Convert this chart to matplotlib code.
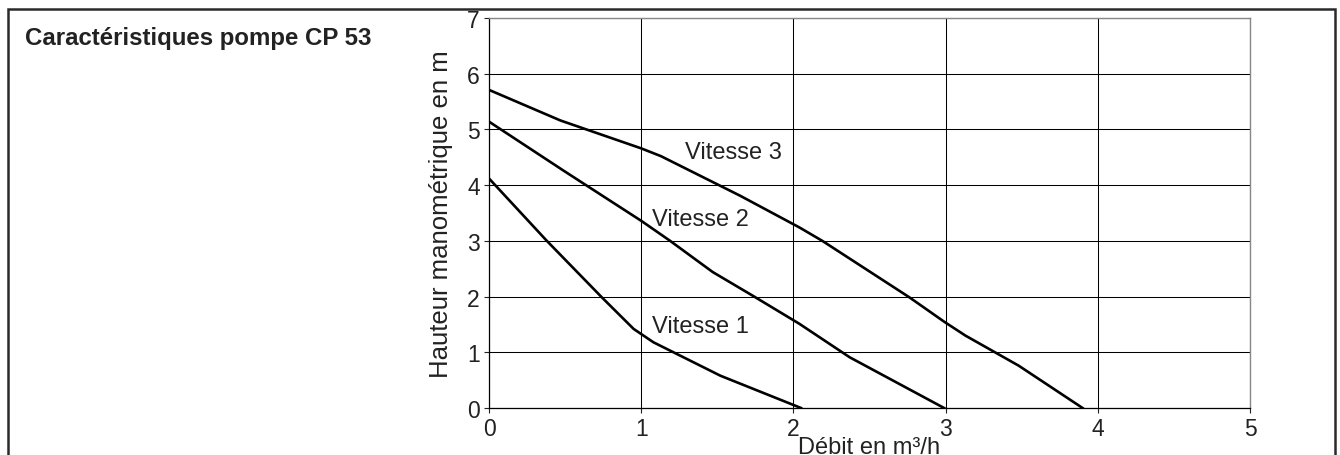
"""Caractéristiques pompe CP 53: hauteur manométrique vs débit, 3 vitesses."""

import matplotlib

matplotlib.use("Agg")
import matplotlib.pyplot as plt  # noqa: E402
from matplotlib.patches import Rectangle  # noqa: E402

plt.rcParams["font.family"] = ["Liberation Sans", "DejaVu Sans"]

# courbes (débit m3/h, hauteur m)
v1_q = [0.0, 0.38, 0.74, 0.95, 1.08, 1.52, 2.05]
v1_h = [4.12, 3.0, 1.99, 1.42, 1.18, 0.58, 0.0]

v2_q = [0.0, 0.49, 1.0, 1.19, 1.47, 1.73, 2.04, 2.37, 2.99]
v2_h = [5.14, 4.26, 3.36, 3.0, 2.44, 2.02, 1.51, 0.91, 0.0]

v3_q = [0.0, 0.47, 1.0, 1.13, 1.65, 2.04, 2.19, 2.76, 2.87, 2.99, 3.13, 3.48, 3.90]
v3_h = [5.71, 5.16, 4.66, 4.52, 3.81, 3.24, 3.0, 1.99, 1.78, 1.55, 1.30, 0.76, 0.0]

labels = ["Vitesse 1", "Vitesse 2", "Vitesse 3"]
label_q = [1.07, 1.07, 1.29]
label_h = [1.48, 3.39, 4.59]

x_ticks = [0, 1, 2, 3, 4, 5]
y_ticks = [0, 1, 2, 3, 4, 5, 6, 7]

W, H = 1340, 456
fig = plt.figure(figsize=(W / 100, H / 100), dpi=100)
ax = fig.add_axes([489 / W, 1 - 409 / H, (1250 - 489) / W, (409 - 19) / H])

for q, h in [(v1_q, v1_h), (v2_q, v2_h), (v3_q, v3_h)]:
    ax.plot(q, h, color="black", lw=1.9, solid_joinstyle="round")
for txt, q, h in zip(labels, label_q, label_h):
    ax.text(q, h, txt, fontsize=17, va="center", ha="left", color="#222222")

ax.set_xlim(0, 5)
ax.set_ylim(0, 7)
ax.set_xticks(x_ticks)
ax.set_yticks(y_ticks)
ax.grid(True, color="black", lw=0.75)
ax.tick_params(labelsize=16.5, length=3.5, width=0.8, colors="#222222", pad=3)
for s in ["top", "right"]:
    ax.spines[s].set_color("#888888")
    ax.spines[s].set_linewidth(1.0)
for s in ["left", "bottom"]:
    ax.spines[s].set_color("black")
    ax.spines[s].set_linewidth(0.9)
ax.set_axisbelow(True)

ax.set_xlabel("Débit en m³/h", fontsize=17, labelpad=-3, color="#222222")
ax.set_ylabel("Hauteur manométrique en m", fontsize=18.5, labelpad=10, color="#222222")

fig.text(25 / W, 1 - 45 / H, "Caractéristiques pompe CP 53", fontsize=17.3,
         fontweight="bold", ha="left", va="baseline", color="#222222")

fig.add_artist(Rectangle((7.5 / W, -0.1), (1335 - 7.5) / W, 1.1 - 9.5 / H,
                         transform=fig.transFigure, fill=False,
                         edgecolor="#2a2a2a", lw=1.8))

fig.savefig("out.png", dpi=100)
